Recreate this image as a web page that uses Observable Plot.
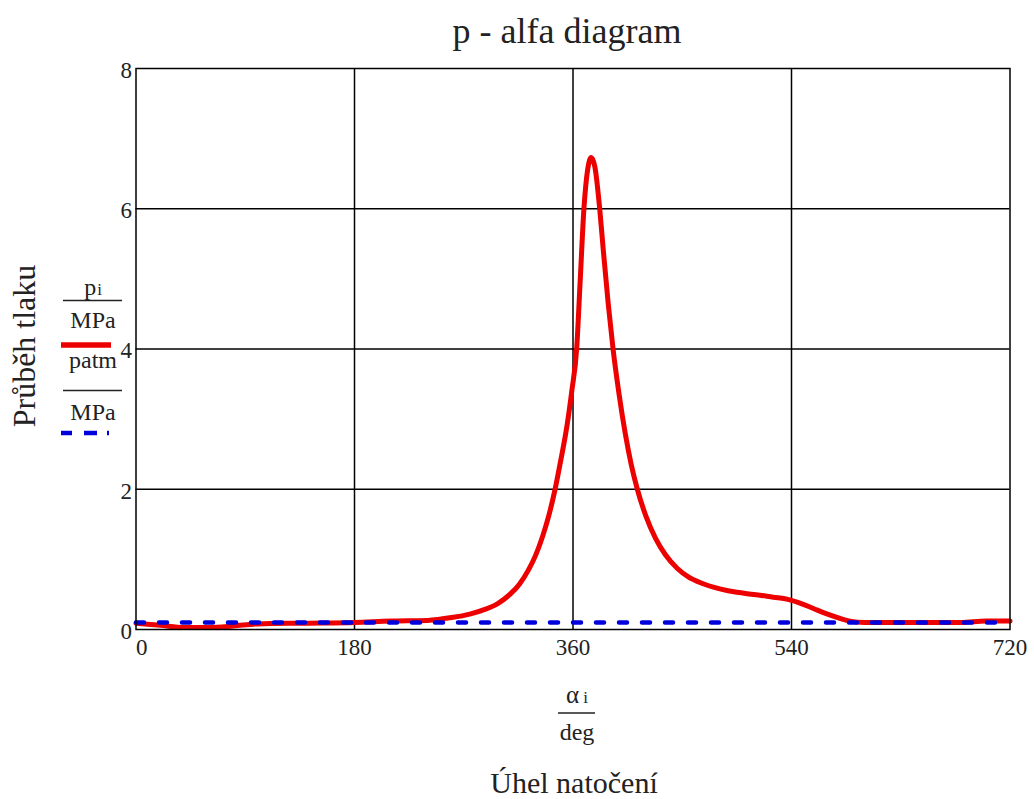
<!DOCTYPE html>
<html>
<head>
<meta charset="utf-8">
<script src="https://cdn.jsdelivr.net/npm/d3@7"></script>
<script src="https://cdn.jsdelivr.net/npm/@observablehq/plot@0.6"></script>
<style>
  html, body { margin: 0; padding: 0; background: #fff; }
  #chart svg { display: block; }
</style>
</head>
<body>
<div id="chart"></div>
<script>
// Crank angle (deg) and cylinder pressure (MPa)
const alpha = [0, 20, 40, 60, 80, 100, 140, 180, 210, 240, 260, 275, 288, 298, 308, 316, 323, 329, 335, 340, 345, 350, 355, 359, 363, 366, 369, 372, 375, 378, 382, 385, 389, 393, 398, 403, 408, 413, 420, 428, 436, 446, 455, 466, 481, 495, 509, 525, 537, 548, 558, 568, 578, 588, 600, 640, 680, 700, 720];
const pressure = [0.09, 0.06, 0.03, 0.03, 0.05, 0.08, 0.09, 0.10, 0.12, 0.13, 0.17, 0.22, 0.29, 0.37, 0.50, 0.65, 0.84, 1.05, 1.33, 1.62, 1.98, 2.42, 2.9, 3.4, 4.0, 5.0, 6.0, 6.55, 6.73, 6.6, 6.0, 5.4, 4.65, 4.0, 3.35, 2.8, 2.35, 2.0, 1.62, 1.3, 1.07, 0.87, 0.75, 0.66, 0.58, 0.53, 0.5, 0.46, 0.43, 0.37, 0.3, 0.23, 0.17, 0.12, 0.10, 0.10, 0.10, 0.12, 0.12];
// Atmospheric pressure (MPa)
const patmAlpha = [0, 720];
const patmValue = [0.1, 0.1];
// Ticks
const xTicks = [0, 180, 360, 540, 720];
const yTicks = [0, 2, 4, 6, 8];
const xGrid = [180, 360, 540];
const yGrid = [2, 4, 6];

const pData = alpha.map((a, i) => ({a, p: pressure[i]}));
const atmData = patmAlpha.map((a, i) => ({a, p: patmValue[i]}));

const FONT = "'Liberation Serif', 'DejaVu Serif', serif";
const W = 1034, H = 799;
const RED = "#ec0000", BLUE = "#0000dc", INK = "#222";

const plot = Plot.plot({
  width: W,
  height: H,
  marginLeft: 135.5,
  marginRight: 24.5,
  marginTop: 68,
  marginBottom: 170,
  style: {fontFamily: FONT, fontSize: "23px", color: INK, background: "#fff"},
  x: {domain: [0, 720]},
  y: {domain: [0, 8]},
  marks: [
    Plot.gridX(xGrid, {stroke: "#000", strokeOpacity: 1, strokeWidth: 1.5}),
    Plot.gridY(yGrid, {stroke: "#000", strokeOpacity: 1, strokeWidth: 1.5}),
    Plot.lineY(pData, {x: "a", y: "p", stroke: RED, strokeWidth: 5, curve: "monotone-x"}),
    Plot.lineY(atmData, {x: "a", y: "p", stroke: BLUE, strokeWidth: 4.5, strokeDasharray: "8,15", strokeLinecap: "round"}),
    Plot.frame({stroke: "#000", strokeWidth: 1.5}),
    Plot.axisX([0], {tickSize: 0, tickPadding: 9, textAnchor: "start", label: null, fontSize: 23, fill: INK, tickFormat: String}),
    Plot.axisX(xTicks.slice(1), {tickSize: 0, tickPadding: 9, label: null, fontSize: 23, fill: INK, tickFormat: String}),
    Plot.axisY(yTicks, {tickSize: 0, tickPadding: 4, dy: 2, label: null, fontSize: 23, fill: INK, tickFormat: String})
  ]
});

document.getElementById("chart").appendChild(plot);

const svg = d3.select(plot);
const g = svg.append("g").attr("font-family", FONT).attr("fill", INK);

// Title
g.append("text").attr("x", 567).attr("y", 43).attr("text-anchor", "middle")
  .attr("font-size", 36).text("p - alfa diagram");

// Y-axis title
g.append("text").attr("transform", "translate(35,346) rotate(-90)")
  .attr("text-anchor", "middle").attr("font-size", 32).text("Průběh tlaku");

// Legend: p_i / MPa and patm / MPa
const lg = g.append("g").attr("font-size", 24);
const pi = lg.append("text").attr("x", 93).attr("y", 295).attr("text-anchor", "middle");
pi.append("tspan").text("p");
pi.append("tspan").attr("font-size", 17).attr("dx", 1).attr("dy", 0).text("i");
lg.append("line").attr("x1", 63).attr("x2", 122).attr("y1", 300.5).attr("y2", 300.5).attr("stroke", INK).attr("stroke-width", 1.6);
lg.append("text").attr("x", 93).attr("y", 328).attr("text-anchor", "middle").text("MPa");
lg.append("line").attr("x1", 61).attr("x2", 111).attr("y1", 345).attr("y2", 345).attr("stroke", RED).attr("stroke-width", 5.5);
lg.append("text").attr("x", 93).attr("y", 368).attr("text-anchor", "middle").text("patm");
lg.append("line").attr("x1", 63).attr("x2", 122).attr("y1", 390.5).attr("y2", 390.5).attr("stroke", INK).attr("stroke-width", 1.6);
lg.append("text").attr("x", 93).attr("y", 420).attr("text-anchor", "middle").text("MPa");
lg.append("line").attr("x1", 61).attr("x2", 111).attr("y1", 433).attr("y2", 433).attr("stroke", BLUE).attr("stroke-width", 4.5).attr("stroke-dasharray", "11,12,13,10,2,100");

// X-axis label: alpha_i / deg
const xl = g.append("g").attr("font-size", 25);
const al = xl.append("text").attr("x", 577).attr("y", 703).attr("text-anchor", "middle");
al.append("tspan").text("α");
al.append("tspan").attr("font-size", 17).attr("dx", 4).attr("dy", 0).text("i");
xl.append("line").attr("x1", 558).attr("x2", 595).attr("y1", 713).attr("y2", 713).attr("stroke", INK).attr("stroke-width", 1.6);
xl.append("text").attr("x", 577).attr("y", 740).attr("text-anchor", "middle").attr("font-size", 24).text("deg");

g.append("text").attr("x", 574).attr("y", 793).attr("text-anchor", "middle")
  .attr("font-size", 30).text("Úhel natočení");
</script>
</body>
</html>
